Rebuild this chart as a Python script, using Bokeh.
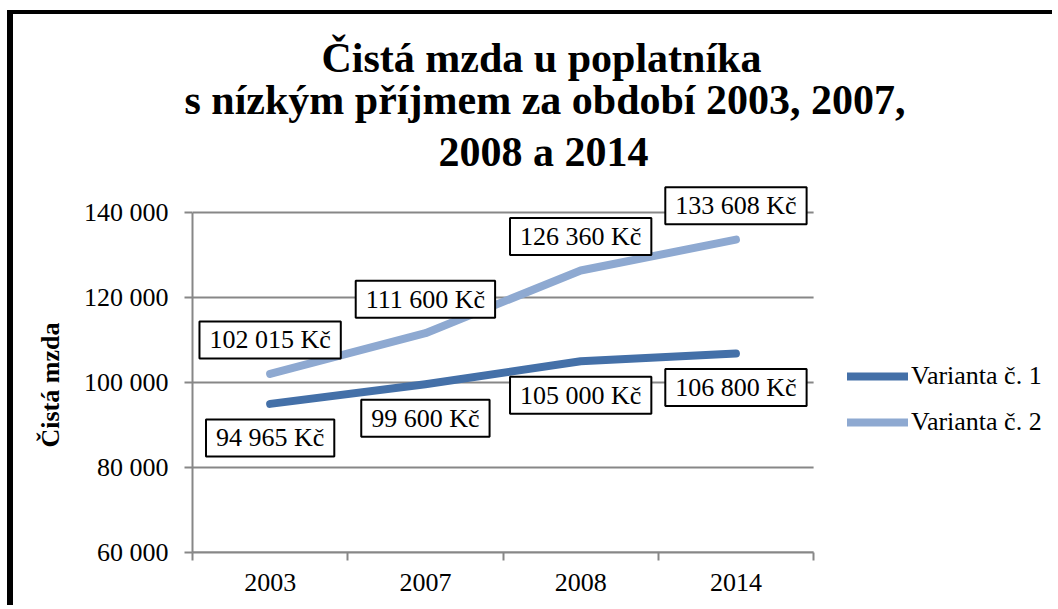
from bokeh.plotting import figure
from bokeh.models import Range1d, FixedTicker, Label, Legend, LegendItem, Title
from bokeh.embed import file_html
from bokeh.resources import INLINE

categories = ["2003", "2007", "2008", "2014"]
series1 = [94965, 99600, 105000, 106800]
series2 = [102015, 111600, 126360, 133608]
series_names = ["Varianta č. 1", "Varianta č. 2"]
y_ticks = [60000, 80000, 100000, 120000, 140000]
y_tick_labels = ["60 000", "80 000", "100 000", "120 000", "140 000"]
title_lines = ["Čistá mzda u poplatníka",
               "s nízkým příjmem za období 2003, 2007,",
               "2008 a 2014"]
y_title = "Čistá mzda"

FONT = "Liberation Serif"
DARK = "#4470A8"
LIGHT = "#8EA9D1"
GRID = "#878787"

n = len(categories)
x_lo, x_hi = -0.5, n - 0.5          # category band of the chart
W, H = 1045, 595
p = figure(width=W, height=H, output_backend="svg", toolbar_location=None,
           x_range=Range1d(x_lo, 5.0),
           y_range=Range1d(y_ticks[0], 148000),
           min_border_left=179, min_border_right=12,
           min_border_top=164, min_border_bottom=57)
p.styles = {"margin-left": "7px", "margin-top": "10px",
            "border-left": "6px solid black", "border-top": "4px solid black"}
p.outline_line_color = None
p.background_fill_color = "white"
p.border_fill_color = "white"

xs = list(range(n))

# axes
p.xaxis.ticker = FixedTicker(ticks=xs, minor_ticks=[x - 0.5 for x in xs] + [x_hi])
p.xaxis.bounds = (x_lo, x_hi)
p.xaxis.major_label_overrides = {i: c for i, c in enumerate(categories)}
p.xaxis.major_tick_line_color = None
p.xaxis.major_tick_out = 8
p.xaxis.major_tick_in = 0
p.xaxis.minor_tick_out = 8
p.xaxis.minor_tick_in = 0
p.xaxis.minor_tick_line_color = GRID
p.xaxis.minor_tick_line_width = 2
p.xaxis.axis_line_color = GRID
p.xaxis.axis_line_width = 2
p.xaxis.major_label_standoff = 13
p.xaxis.major_label_text_font = FONT
p.xaxis.major_label_text_font_size = "26px"
p.xaxis.major_label_text_color = "black"

p.yaxis.ticker = FixedTicker(ticks=y_ticks, minor_ticks=[])
p.yaxis.bounds = (y_ticks[0], y_ticks[-1])
p.yaxis.major_label_overrides = dict(zip(y_ticks, y_tick_labels))
p.yaxis.major_tick_out = 8
p.yaxis.major_tick_in = 0
p.yaxis.major_tick_line_color = GRID
p.yaxis.major_tick_line_width = 2
p.yaxis.axis_line_color = GRID
p.yaxis.axis_line_width = 2
p.yaxis.major_label_standoff = 16
p.yaxis.major_label_text_font = FONT
p.yaxis.major_label_text_font_size = "26px"
p.yaxis.major_label_text_color = "black"

# y-axis title, centred on the 60 000 - 140 000 band
p.add_layout(Title(text=y_title, align="left", offset=105, standoff=32,
                   text_font=FONT, text_font_style="bold",
                   text_font_size="26px", text_color="black"), "left")

p.xgrid.grid_line_color = None
p.ygrid.grid_line_color = None
# horizontal gridlines limited to the category band
p.segment(x0=[x_lo] * len(y_ticks), y0=y_ticks, x1=[x_hi] * len(y_ticks), y1=y_ticks,
          line_color=GRID, line_width=2)

# lines
r1 = p.line(xs, series1, line_color=DARK, line_width=8, line_cap="round", line_join="round")
r2 = p.line(xs, series2, line_color=LIGHT, line_width=8, line_cap="round", line_join="round")

def fmt(v):
    return f"{v:,}".replace(",", " ") + " Kč"

for vals, off in ((series1, -34), (series2, 34)):
    for x, v in zip(xs, vals):
        p.add_layout(Label(x=x, y=v, y_offset=off, text=fmt(v),
                           text_align="center", text_baseline="middle",
                           text_font=FONT, text_font_size="26px", text_color="black",
                           background_fill_color="white",
                           border_line_color="black", border_line_width=2,
                           padding=(10, 4)))

# title: three lines stacked above the frame (first added = nearest the frame)
title_offsets = [246, -8, 129]
title_standoffs = [8, 0, -12]
for t, off, so in zip(reversed(title_lines), title_offsets, title_standoffs):
    p.add_layout(Title(text=t, align="left", offset=off, standoff=so,
                       text_font=FONT, text_font_style="bold",
                       text_font_size="42px", text_color="black"), "above")

legend = Legend(items=[LegendItem(label=series_names[0], renderers=[r1]),
                       LegendItem(label=series_names[1], renderers=[r2])],
                location=(655, 115), orientation="vertical",
                glyph_width=61, glyph_height=30, label_height=30,
                label_standoff=3, spacing=16, padding=0, margin=0,
                border_line_color=None, background_fill_alpha=0,
                label_text_font=FONT, label_text_font_size="26px",
                label_text_color="black")
p.add_layout(legend)

open("out.html", "w").write(file_html(p, INLINE))
